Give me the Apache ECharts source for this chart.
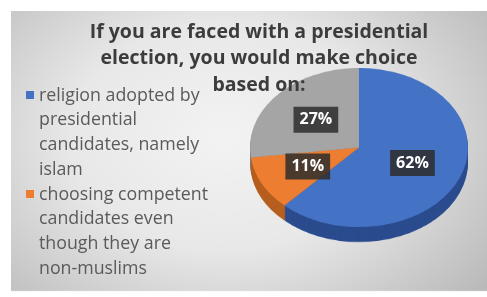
<!DOCTYPE html>
<html>
<head>
<meta charset="utf-8">
<script src="https://cdn.jsdelivr.net/npm/echarts@6/dist/echarts.min.js"></script>
<style>
  body{margin:0;background:#fff}
  #wrap{position:relative;width:487px;height:297px;overflow:hidden;background:#fff}
  /* pie is drawn flat, then squashed to look tilted */
  #pie{position:absolute;left:0;top:0;width:487px;height:407px;transform:scaleY(0.73);transform-origin:0 0}
  #main{position:absolute;left:0;top:0;width:487px;height:297px}
</style>
</head>
<body>
<div id="wrap">
  <div id="pie"></div>
  <div id="main"></div>
</div>
<script>
var categories = [
  'religion adopted by presidential candidates, namely islam',
  'choosing competent candidates even though they are non-muslims',
  'other'
];
var legendLabels = [
  'religion adopted by\npresidential\ncandidates, namely\nislam',
  'choosing competent\ncandidates even\nthough they are\nnon-muslims'
];
var values = [62, 11, 27];
var topColors = ['#4472c4', '#ed7d31', '#a5a5a5'];
var sideColors = ['#2a4c8e', '#b65e1e', '#7a7a7a'];
var titleText = 'If you are faced with a presidential\nelection, you would make choice\nbased on:';

var tilt = 0.73;
var cx = 359, cy = 147.5, r = 109, depth = 15;

function pieData(colors) {
  return values.map(function (v, i) {
    return { value: v, name: categories[i], itemStyle: { color: colors[i] } };
  });
}

// ---- tilted pie (sectors only)
var pieChart = echarts.init(document.getElementById('pie'));
var pieSeries = [];
var layers = 10;
for (var k = layers; k >= 1; k--) {
  pieSeries.push({
    type: 'pie', silent: true, animation: false,
    radius: r, center: [cx, (cy + depth * k / layers) / tilt],
    label: { show: false }, labelLine: { show: false },
    itemStyle: { borderWidth: 0 },
    data: pieData(sideColors)
  });
}
pieSeries.push({
  type: 'pie', silent: true, animation: false,
  radius: r, center: [cx, cy / tilt],
  label: { show: false }, labelLine: { show: false },
  itemStyle: { borderWidth: 0 },
  data: pieData(topColors)
});
pieChart.setOption({
  backgroundColor: 'transparent',
  animation: false,
  graphic: [{
    type: 'rect', z: -10, silent: true,
    shape: { x: 11, y: 11 / tilt, width: 476, height: 280 / tilt },
    style: {
      fill: {
        type: 'radial', x: 0.45, y: 0.45, r: 0.9,
        colorStops: [
          { offset: 0, color: '#f3f3f3' },
          { offset: 0.45, color: '#e8e8e8' },
          { offset: 1, color: '#b6b6b6' }
        ]
      }
    }
  }],
  series: pieSeries
});

// ---- title, legend and labels on top
var chart = echarts.init(document.getElementById('main'));
chart.setOption({
  backgroundColor: 'transparent',
  animation: false,
  title: {
    text: titleText,
    left: 254, top: 14, textAlign: 'center',
    textStyle: {
      fontFamily: 'Open Sans', fontSize: 19.5, fontWeight: 'bold',
      color: '#3c3c3c', lineHeight: 26.5
    }
  },
  legend: {
    orient: 'vertical', left: 26, top: 83, padding: 0,
    itemGap: 0, itemWidth: 8, itemHeight: 99,
    icon: 'path://M0,0h0.1v0.1h-0.1zM0,8h8v8h-8zM7.9,98.9h0.1v0.1h-0.1z',
    selectedMode: false,
    data: legendLabels.map(function (t, i) {
      return { name: categories[i], itemStyle: { color: topColors[i] } };
    }),
    formatter: function (name) {
      return legendLabels[categories.indexOf(name)];
    },
    textStyle: {
      fontFamily: 'Open Sans', fontSize: 17.8, color: '#5a5a5a', lineHeight: 24.7
    }
  },
  series: [{
    type: 'pie', silent: true,
    radius: r, center: [cx, cy],
    itemStyle: { color: 'rgba(0,0,0,0)', borderWidth: 0 },
    data: values.map(function (v, i) { return { value: v, name: categories[i] }; }),
    label: {
      show: true, position: 'inside', formatter: '{c}%',
      color: '#fff', fontFamily: 'Open Sans', fontWeight: 'bold', fontSize: 16,
      backgroundColor: 'rgba(45,45,45,0.85)', padding: [5, 6]
    },
    labelLine: { show: false },
    labelLayout: function (p) {
      var lr = p.labelRect;
      return {
        x: lr.x + lr.width / 2,
        y: cy + (lr.y + lr.height / 2 - cy) * tilt
      };
    }
  }]
});
</script>
</body>
</html>
